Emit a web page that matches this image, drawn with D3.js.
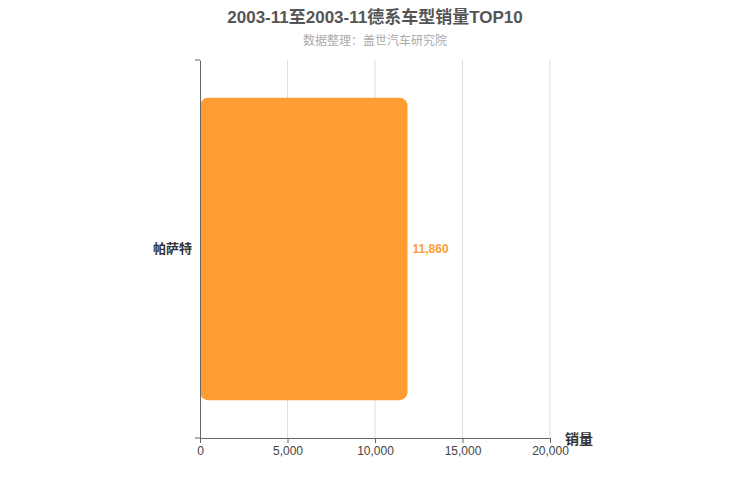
<!DOCTYPE html>
<html><head><meta charset="utf-8">
<script src="https://cdn.jsdelivr.net/npm/d3@7"></script>
<style>body{margin:0;background:#fff;font-family:"Liberation Sans","Noto Sans CJK SC",sans-serif;}</style>
</head><body><svg id="chart"></svg>
<script>
const categories = ["帕萨特"];
const sales = [11860];
const xTicks = [0, 5000, 10000, 15000, 20000];

const width = 750, height = 500;
const margin = { top: 60, right: 200, bottom: 62, left: 200 };
const svg = d3.select("#chart").attr("width", width).attr("height", height);

const x = d3.scaleLinear().domain([0, 20000]).range([margin.left, width - margin.right]);
const y = d3.scaleBand().domain(categories).range([margin.top, height - margin.bottom])
  .paddingInner(0.2).paddingOuter(0.1);

// title
svg.append("text").attr("x", 375).attr("y", 23).attr("text-anchor", "middle")
  .style("font-size", "17px").style("font-weight", "bold").attr("fill", "#555")
  .text("2003-11至2003-11德系车型销量TOP10");
svg.append("text").attr("x", 375).attr("y", 45).attr("text-anchor", "middle")
  .style("font-size", "12px").attr("fill", "#aaa").text("数据整理：盖世汽车研究院");

// grid
svg.append("g").selectAll("line").data(xTicks.slice(1)).join("line")
  .attr("x1", d => x(d)).attr("x2", d => x(d))
  .attr("y1", margin.top).attr("y2", height - margin.bottom)
  .attr("stroke", "#ddd");

// bars
svg.append("g").selectAll("rect").data(categories).join("rect")
  .attr("x", x(0)).attr("y", d => y(d))
  .attr("width", (d, i) => x(sales[i]) - x(0)).attr("height", y.bandwidth())
  .attr("rx", 8).attr("fill", "#ff9d33");

svg.append("g").selectAll("text").data(categories).join("text")
  .attr("x", (d, i) => x(sales[i]) + 5).attr("y", d => y(d) + y.bandwidth() / 2 + 4)
  .style("font-size", "12px").style("font-weight", "bold").attr("fill", "#ff9d33")
  .text((d, i) => d3.format(",")(sales[i]));

// axes
const xAxis = svg.append("g").attr("transform", `translate(0,${height - margin.bottom})`)
  .call(d3.axisBottom(x).tickValues(xTicks).tickFormat(d3.format(",")).tickSizeOuter(0).tickSize(5));
xAxis.select(".domain").attr("stroke", "#666");
xAxis.selectAll(".tick line").attr("stroke", "#666");
xAxis.selectAll("text").style("font-size", "12px").attr("fill", "#444")
  .style("font-family", "Liberation Sans, sans-serif");

const yAxis = svg.append("g").attr("transform", `translate(${margin.left},0)`)
  .call(d3.axisLeft(y).tickSize(0).tickPadding(8));
yAxis.select(".domain").attr("stroke", "#666");
yAxis.selectAll("text").style("font-size", "13px").style("font-weight", "bold").attr("fill", "#333")
  .style("font-family", "Noto Sans CJK SC, sans-serif");
[margin.top, height - margin.bottom].forEach(v =>
  svg.append("line").attr("x1", margin.left - 5).attr("x2", margin.left).attr("y1", v).attr("y2", v).attr("stroke", "#666"));

svg.append("text").attr("x", 565).attr("y", 444)
  .style("font-size", "14px").style("font-weight", "bold").attr("fill", "#333").text("销量");
</script></body></html>
